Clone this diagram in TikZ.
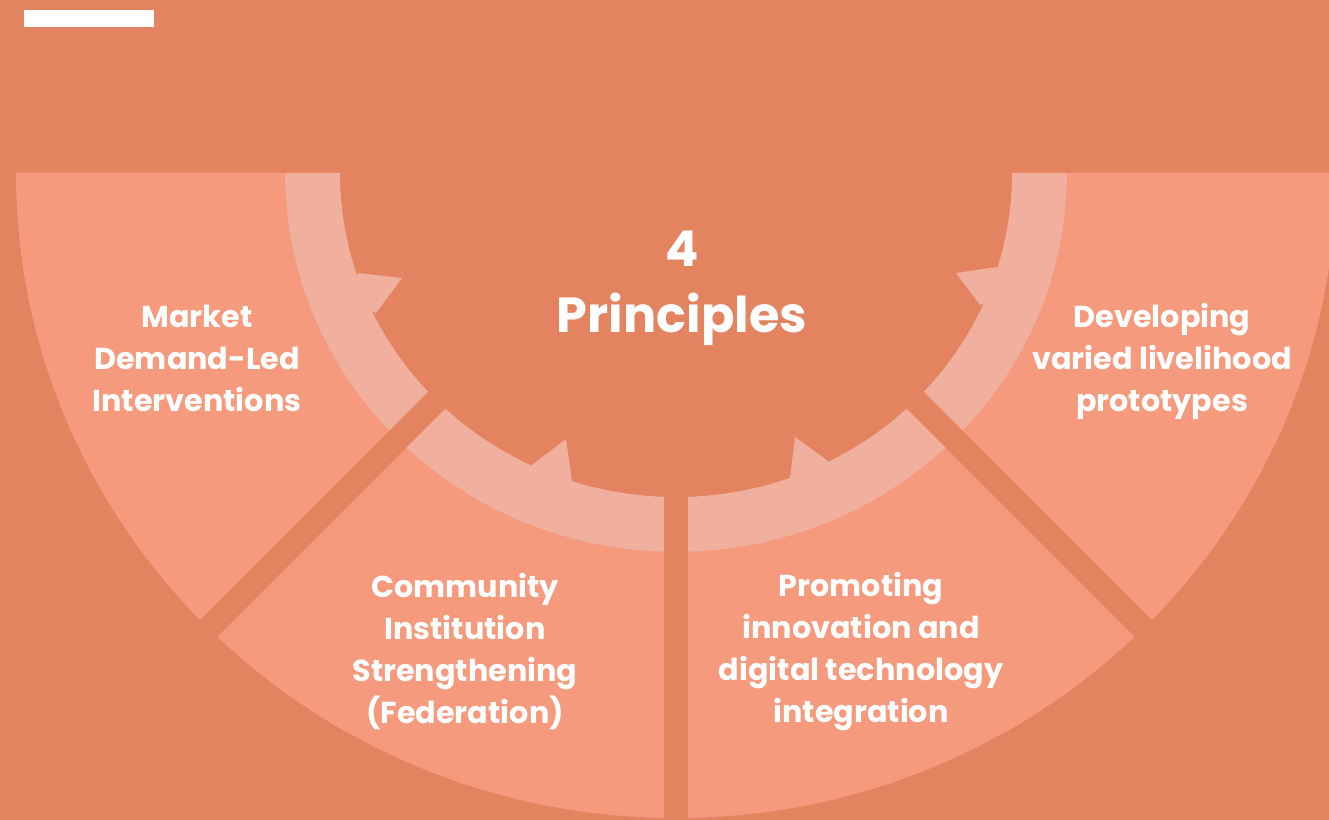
\documentclass[tikz,border=0pt]{standalone}
\usepackage{fontspec}
\setmainfont{Poppins}
\definecolor{bgcol}{HTML}{E48360}
\definecolor{segcol}{HTML}{F59A7D}
\definecolor{ringcol}{HTML}{F1AF9D}

\begin{document}
\begin{tikzpicture}[x=0.75pt, y=-0.75pt,
	principle/.style={text=white, font=\bfseries\fontsize{22.7}{31.5}\selectfont, align=center},
	headline/.style={text=white, font=\bfseries\fontsize{37}{49.5}\selectfont, align=center},
	gap/.style={draw=bgcol, line width=18pt}]
		
		% --- 1. Canvas and top bar ---
		\useasboundingbox (0,0) rectangle (1329,820);
		\clip (0,0) rectangle (1329,820);
		\fill[bgcol] (0,0) rectangle (1329,820);
		\fill[white] (24,10) rectangle (154,27);
		
		% --- 2. Outer half ring (the four segments) ---
		\coordinate (O) at (676,173);
		\fill[segcol] (16,173) arc[start angle=180, end angle=0, x radius=660, y radius=645]
		-- (1067,173) arc[start angle=0, end angle=180, x radius=391, y radius=379] -- cycle;
		
		% --- 3. Inner ring with its four teeth ---
		\fill[ringcol] (285,173) arc[start angle=180, end angle=0, x radius=391, y radius=379]
		-- (1012,173) arc[start angle=0, end angle=180, x radius=336, y radius=324] -- cycle;
		\fill[ringcol] (358,273) -- (402,278) -- (376,313) -- (348,300) -- cycle;
		\fill[ringcol] (532,465) -- (566,439) -- (572,481) -- (544,491) -- cycle;
		\fill[ringcol] (790,478) -- (795,437) -- (828,461) -- (817,488) -- cycle;
		\fill[ringcol] (997,267) -- (956,273) -- (980,305) -- (1007,293) -- cycle;
		
		% --- 4. Gaps between the segments ---
		\coordinate (C) at (676,161);
		\coordinate (B) at (676,830);
		\draw[gap] (C) -- ++(135:720);
		\draw[gap] (C) -- ++(45:720);
		\draw[gap] (O) -- (B);
		
		% --- 5. Labels ---
		\node[headline] (title) at (682,288) {4\\Principles};
		\node[principle] (market) at (197,358) {Market\\Demand-Led\\Interventions};
		\node[principle] (community) at (465,652) {Community\\Institution\\Strengthening\\(Federation)};
		\node[principle] (promoting) at (861,652) {Promoting\\innovation and\\digital technology\\integration};
		\node[principle] (developing) at (1162,361) {Developing\\varied livelihood\\prototypes};
		
	\end{tikzpicture}
\end{document}
